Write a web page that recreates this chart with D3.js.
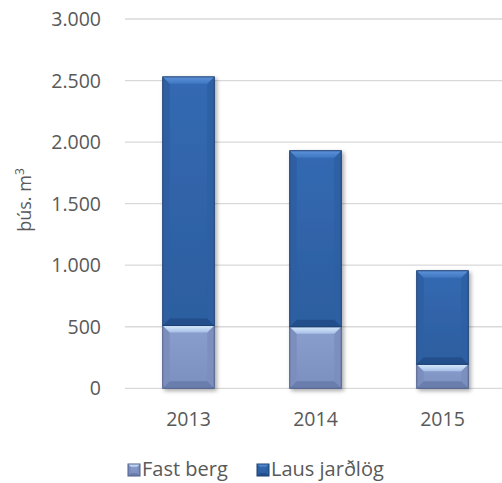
<!DOCTYPE html>
<html><head><meta charset="utf-8">
<script src="https://cdn.jsdelivr.net/npm/d3@7"></script>
<style>body{margin:0;background:#fff}svg{display:block}</style>
</head><body><svg id="c" width="502" height="483"></svg>
<script>
const categories = ["2013", "2014", "2015"];
const fastBerg = [510, 500, 195];
const lausJardlog = [2020, 1430, 760];
const yTicks = [0, 500, 1000, 1500, 2000, 2500, 3000];
const seriesNames = ["Fast berg", "Laus jarðlög"];

const svg = d3.select("#c");
const FONT = "'Open Sans', sans-serif";
const TXT = "#595959";
const x = d3.scaleBand().domain(categories).range([125, 506]).paddingInner(0.594).paddingOuter(0.297);
const y = d3.scaleLinear().domain([0, 3000]).range([388.3, 19]);

const defs = svg.append("defs");
function lg(id, stops, vertical = true) {
  const g = defs.append("linearGradient").attr("id", id)
    .attr("x1", 0).attr("y1", 0).attr("x2", vertical ? 0 : 1).attr("y2", vertical ? 1 : 0);
  stops.forEach(s => g.append("stop").attr("offset", s[0]).attr("stop-color", s[1]));
}
lg("lBody", [[0, "#3469b2"], [1, "#2c5e9f"]]);
lg("lTop", [[0, "#5d93d8"], [1, "#3e76c0"]]);
lg("fBody", [[0, "#8a9fcd"], [1, "#7c8fbf"]]);
lg("fTop", [[0, "#d8ecfc"], [1, "#a6bee6"]]);
const f = defs.append("filter").attr("id", "sh").attr("x", "-20%").attr("y", "-20%").attr("width", "150%").attr("height", "150%");
f.append("feGaussianBlur").attr("in", "SourceAlpha").attr("stdDeviation", 2.2).attr("result", "b");
f.append("feOffset").attr("dx", 2).attr("dy", 2).attr("result", "o");
f.append("feComponentTransfer").append("feFuncA").attr("type", "linear").attr("slope", 0.35);
const m = f.append("feMerge"); m.append("feMergeNode"); m.append("feMergeNode").attr("in", "SourceGraphic");

// gridlines
svg.append("g").selectAll("line").data(yTicks).join("line")
  .attr("x1", 125).attr("x2", 502).attr("y1", d => y(d)).attr("y2", d => y(d))
  .attr("stroke", "#d9d9d9").attr("stroke-width", 1.3);

// y tick labels
svg.append("g").selectAll("text").data(yTicks).join("text")
  .attr("x", 101).attr("y", d => y(d)).attr("dy", "0.36em").attr("text-anchor", "end")
  .attr("font-family", FONT).attr("font-size", 19.5).attr("fill", TXT)
  .text(d => d3.format(",")(d).replace(/,/g, "."));

// y axis title
svg.append("text").attr("transform", "translate(31,200) rotate(-90)").attr("text-anchor", "middle")
  .attr("font-family", FONT).attr("font-size", 18).attr("fill", TXT)
  .html("þús. m<tspan dy='-7' font-size='12'>3</tspan>");

function bevelBox(g, x0, y0, w, h, kind) {
  const b = Math.min(7, h / 3, w / 4);
  const x1 = x0 + w, y1 = y0 + h;
  const body = kind === "l" ? "url(#lBody)" : "url(#fBody)";
  const top = kind === "l" ? "url(#lTop)" : "url(#fTop)";
  const side = kind === "l" ? "#2d5fa3" : "#7b8ebd";
  const bot = kind === "l" ? "#23508c" : "#6b7ead";
  const edge = kind === "l" ? "#1c3f73" : "#4f5f8a";
  g.append("rect").attr("x", x0).attr("y", y0).attr("width", w).attr("height", h).attr("fill", body);
  g.append("polygon").attr("points", [[x0,y0],[x0+b,y0+b],[x0+b,y1-b],[x0,y1]].join(" ")).attr("fill", side);
  g.append("polygon").attr("points", [[x1,y0],[x1-b,y0+b],[x1-b,y1-b],[x1,y1]].join(" ")).attr("fill", side).attr("opacity", 0.9);
  g.append("polygon").attr("points", [[x0,y1],[x0+b,y1-b],[x1-b,y1-b],[x1,y1]].join(" ")).attr("fill", bot);
  g.append("polygon").attr("points", [[x0,y0],[x1,y0],[x1-b,y0+b],[x0+b,y0+b]].join(" ")).attr("fill", top);
  g.append("rect").attr("x", x0).attr("y", y0).attr("width", w).attr("height", h)
    .attr("fill", "none").attr("stroke", edge).attr("stroke-width", 1);
}

const stack = d3.stack().keys([0, 1]).value((d, k) => d[k]);
const rows = categories.map((c, i) => [fastBerg[i], lausJardlog[i]]);
const layers = stack(rows);
const bars = svg.append("g").attr("filter", "url(#sh)");
layers.forEach((layer, k) => {
  layer.forEach((d, i) => {
    const x0 = x(categories[i]);
    bevelBox(bars, x0, y(d[1]), x.bandwidth(), y(d[0]) - y(d[1]), k === 0 ? "f" : "l");
  });
});

// x labels
svg.append("g").selectAll("text").data(categories).join("text")
  .attr("x", d => x(d) + x.bandwidth() / 2).attr("y", 426).attr("text-anchor", "middle")
  .attr("font-family", FONT).attr("font-size", 19.5).attr("fill", TXT).text(d => d);

// legend
const leg = svg.append("g");
const lx = [128, 257];
seriesNames.forEach((n, k) => {
  const g = leg.append("g");
  bevelBox(g, lx[k], 464, 12, 12, k === 0 ? "f" : "l");
  g.append("text").attr("x", lx[k] + 14).attr("y", 476).attr("font-family", FONT)
    .attr("font-size", 20).attr("fill", TXT).text(n);
});
</script></body></html>
